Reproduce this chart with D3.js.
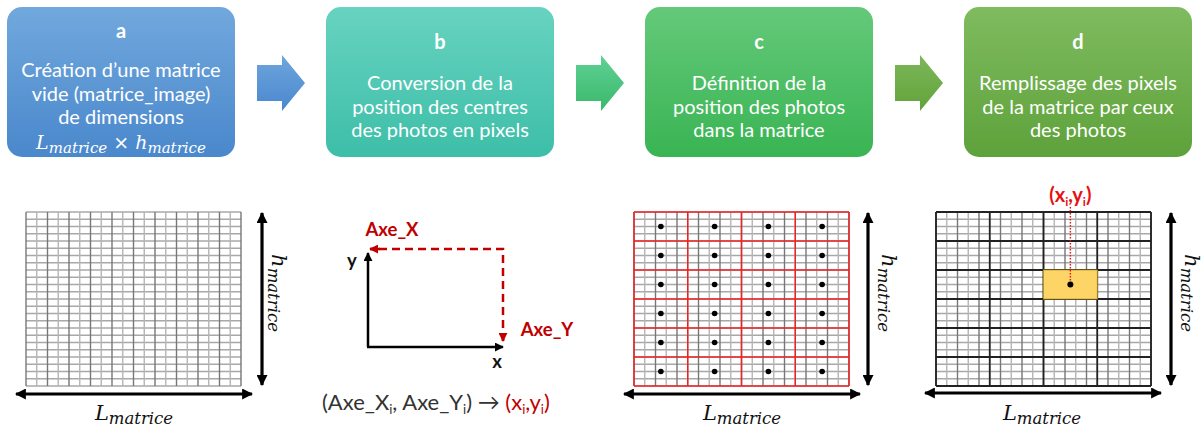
<!DOCTYPE html>
<html><head><meta charset="utf-8">
<script src="https://cdn.jsdelivr.net/npm/d3@7/dist/d3.min.js"></script>
<style>
html,body{margin:0;padding:0;background:#fff;}
svg{display:block;}
</style></head>
<body>
<svg id="chart" width="1203" height="428"></svg>
<script>
// ---------------- data ----------------
const stepLetters = ["a", "b", "c", "d"];
const stepLines = [
  ["Création d’une matrice", "vide (matrice_image)", "de dimensions"],
  ["Conversion de la", "position des centres", "des photos en pixels"],
  ["Définition de la", "position des photos", "dans la matrice"],
  ["Remplissage des pixels", "de la matrice par ceux", "des photos"]
];
const gridCols = 20;          // pixel columns of the matrix
const gridRows = 24;          // pixel rows of the matrix
const photoCols = [0, 1, 2, 3];           // photo block columns
const photoRows = [0, 1, 2, 3, 4, 5];     // photo block rows
const highlightPhoto = [2, 2];            // [col,row] filled in panel d
const axisLabels = ["Axe_X", "Axe_Y", "x", "y"];

// ---------------- styles ----------------
const boxTop = ["#71a8dd", "#67d3c0", "#64c97a", "#7fbb5f"];
const boxBot = ["#4a88cc", "#3dbea8", "#39b453", "#5ea23b"];
const arrowTop = ["#6ea6dc", "#5fd195", "#7db75a"];
const arrowBot = ["#4a87cf", "#3bb86b", "#61a23a"];
const darkRed = "#c00000";
const brightRed = "#e81010";

const svg = d3.select("#chart");
const defs = svg.append("defs");

function grad(id, c1, c2) {
  const g = defs.append("linearGradient").attr("id", id)
    .attr("x1", 0).attr("y1", 0).attr("x2", 0).attr("y2", 1);
  g.append("stop").attr("offset", "0%").attr("stop-color", c1);
  g.append("stop").attr("offset", "100%").attr("stop-color", c2);
}
stepLetters.forEach((l, i) => grad("gb" + i, boxTop[i], boxBot[i]));
arrowTop.forEach((c, i) => grad("ga" + i, c, arrowBot[i]));

function marker(id, color, size) {
  defs.append("marker").attr("id", id)
    .attr("viewBox", "0 0 10 10").attr("refX", 9).attr("refY", 5)
    .attr("markerUnits", "userSpaceOnUse")
    .attr("markerWidth", size).attr("markerHeight", size)
    .attr("orient", "auto-start-reverse")
    .append("path").attr("d", "M0,0 L10,5 L0,10 Z").attr("fill", color);
}
marker("mBlack", "#000", 11);
marker("mSmall", "#000", 9);
marker("mRed", darkRed, 9);

const uiFont = "Lato, 'Open Sans', sans-serif";
const mathFont = "'DejaVu Serif', 'Liberation Serif', serif";

// ---------------- top boxes ----------------
const xBox = d3.scaleBand().domain(stepLetters).range([7, 1192])
  .paddingInner(91 / 319).paddingOuter(0);
const boxY = 7, boxH = 150;

const boxes = svg.selectAll("g.box").data(stepLetters).join("g").attr("class", "box")
  .attr("transform", d => `translate(${xBox(d)},${boxY})`);
boxes.append("rect").attr("width", xBox.bandwidth()).attr("height", boxH)
  .attr("rx", 15).attr("ry", 15)
  .attr("fill", (d, i) => `url(#gb${i})`);
boxes.append("text").attr("x", xBox.bandwidth() / 2).attr("y", (d, i) => i === 0 ? 31 : 42)
  .attr("text-anchor", "middle").attr("fill", "#fff")
  .attr("font-family", uiFont).attr("font-weight", "bold").attr("font-size", 20)
  .text(d => d);

boxes.each(function (d, i) {
  const g = d3.select(this);
  const lines = stepLines[i];
  const startY = i === 0 ? 63 : 76;
  lines.forEach((t, k) => {
    g.append("text").attr("x", xBox.bandwidth() / 2).attr("y", startY + k * 23.7)
      .attr("text-anchor", "middle").attr("fill", "#fff").attr("dy", "0.35em")
      .attr("font-family", uiFont).attr("font-size", 20)
      .text(t);
  });
  if (i === 0) {
    const m = g.append("text").attr("x", xBox.bandwidth() / 2).attr("y", 142)
      .attr("text-anchor", "middle").attr("fill", "#fff")
      .attr("font-family", mathFont).attr("font-style", "italic");
    m.append("tspan").attr("font-size", 19).text("L");
    m.append("tspan").attr("font-size", 15).attr("dy", 4).text("matrice");
    m.append("tspan").attr("font-size", 19).attr("dy", -4).attr("font-style", "normal").text(" × ");
    m.append("tspan").attr("font-size", 19).text("h");
    m.append("tspan").attr("font-size", 15).attr("dy", 4).text("matrice");
  }
});

// block arrows between boxes
const arrowIdx = [0, 1, 2];
svg.selectAll("path.barrow").data(arrowIdx).join("path").attr("class", "barrow")
  .attr("d", i => {
    const x0 = xBox(stepLetters[i]) + xBox.bandwidth() + 22;
    const xh = x0 + 25, x1 = x0 + 48;
    return `M${x0},65 L${xh},65 L${xh},55 L${x1},83 L${xh},111 L${xh},101 L${x0},101 Z`;
  })
  .attr("fill", i => `url(#ga${i})`);

// ---------------- matrix grids ----------------
const gridY0 = 212, gridY1 = 386, gridW = 215;

function drawGrid(x0, redBlocks, blackBlocks) {
  const g = svg.append("g");
  const xs = d3.scaleLinear().domain([0, gridCols]).range([x0, x0 + gridW]);
  const ys = d3.scaleLinear().domain([0, gridRows]).range([gridY0, gridY1]);
  g.selectAll("line.r").data(d3.range(gridRows + 1)).join("line")
    .attr("x1", xs(0)).attr("x2", xs(gridCols))
    .attr("y1", d => ys(d)).attr("y2", d => ys(d))
    .attr("stroke", "#a8a8a8").attr("stroke-width", 1.6);
  g.selectAll("line.c").data(d3.range(gridCols + 1)).join("line")
    .attr("y1", ys(0)).attr("y2", ys(gridRows))
    .attr("x1", d => xs(d)).attr("x2", d => xs(d))
    .attr("stroke", d => (d % 2 === 0 ? "#777" : "#b5b5b5")).attr("stroke-width", 1.4);
  const bx = d3.scaleLinear().domain([0, photoCols.length]).range([x0, x0 + gridW]);
  const by = d3.scaleLinear().domain([0, photoRows.length]).range([gridY0, gridY1]);
  if (redBlocks || blackBlocks) {
    const col = redBlocks ? "#ee2222" : "#222";
    const w = redBlocks ? 1.5 : 1.8;
    g.selectAll("line.bc").data(d3.range(photoCols.length + 1)).join("line")
      .attr("x1", d => bx(d)).attr("x2", d => bx(d)).attr("y1", gridY0).attr("y2", gridY1)
      .attr("stroke", col).attr("stroke-width", w);
    g.selectAll("line.br").data(d3.range(photoRows.length + 1)).join("line")
      .attr("y1", d => by(d)).attr("y2", d => by(d)).attr("x1", x0).attr("x2", x0 + gridW)
      .attr("stroke", col).attr("stroke-width", w);
  }
  return { xs, ys, bx, by, g };
}

function dimArrows(x0, vx, hy, hx0, hx1, lx, hxLabel) {
  svg.append("line").attr("x1", vx).attr("x2", vx).attr("y1", 213).attr("y2", 385)
    .attr("stroke", "#000").attr("stroke-width", 3.2)
    .attr("marker-start", "url(#mBlack)").attr("marker-end", "url(#mBlack)");
  svg.append("line").attr("y1", hy).attr("y2", hy).attr("x1", hx0).attr("x2", hx1)
    .attr("stroke", "#000").attr("stroke-width", 3.2)
    .attr("marker-start", "url(#mBlack)").attr("marker-end", "url(#mBlack)");
  const L = svg.append("text").attr("x", lx).attr("y", 420).attr("text-anchor", "middle")
    .attr("font-family", mathFont).attr("font-style", "italic").attr("fill", "#111");
  L.append("tspan").attr("font-size", 21).text("L");
  L.append("tspan").attr("font-size", 16.5).attr("dy", 4).text("matrice");
  const H = svg.append("text").attr("transform", `translate(${hxLabel},293) rotate(90)`)
    .attr("text-anchor", "middle")
    .attr("font-family", mathFont).attr("font-style", "italic").attr("fill", "#111");
  H.append("tspan").attr("font-size", 21).text("h");
  H.append("tspan").attr("font-size", 16.5).attr("dy", 4).text("matrice");
}

// panel a
drawGrid(26, false, false);
dimArrows(26, 262, 394, 16, 252, 134, 272);

// panel c
const pc = drawGrid(634, true, false);
const dots = [];
photoRows.forEach(r => photoCols.forEach(c => dots.push([c, r])));
svg.selectAll("circle.dc").data(dots).join("circle").attr("class", "dc")
  .attr("cx", d => pc.bx(d[0] + 0.5)).attr("cy", d => pc.by(d[1] + 0.5))
  .attr("r", 2.8).attr("fill", "#000");
dimArrows(634, 868, 394, 624, 860, 742, 882);

// panel d
const pd = drawGrid(936, false, true);
pd.g.append("rect")
  .attr("x", pd.bx(highlightPhoto[0])).attr("y", pd.by(highlightPhoto[1]))
  .attr("width", pd.bx(1) - pd.bx(0)).attr("height", pd.by(1) - pd.by(0))
  .attr("fill", "#fdd566").attr("stroke", "#bf9a2a").attr("stroke-width", 0.8);
const hcx = pd.bx(highlightPhoto[0] + 0.5), hcy = pd.by(highlightPhoto[1] + 0.5);
svg.append("line").attr("x1", hcx).attr("x2", hcx).attr("y1", 207).attr("y2", hcy)
  .attr("stroke", brightRed).attr("stroke-width", 1.4).attr("stroke-dasharray", "1.5,1.5");
svg.append("circle").attr("cx", hcx).attr("cy", hcy).attr("r", 3).attr("fill", "#000");
const xy = svg.append("text").attr("x", hcx).attr("y", 202).attr("text-anchor", "middle")
  .attr("font-family", uiFont).attr("font-weight", "bold").attr("font-size", 20).attr("fill", brightRed);
xy.append("tspan").text("(x");
xy.append("tspan").attr("font-size", 12).attr("dy", 4).text("i");
xy.append("tspan").attr("dy", -4).text(",y");
xy.append("tspan").attr("font-size", 12).attr("dy", 4).text("i");
xy.append("tspan").attr("dy", -4).text(")");
dimArrows(936, 1171, 393, 925, 1161, 1042, 1185);

// ---------------- panel b ----------------
const ax = d3.scaleLinear().domain([0, 1]).range([368, 503]);
const ay = d3.scaleLinear().domain([0, 1]).range([347, 249]);
svg.append("line").attr("x1", ax(0)).attr("y1", ay(0)).attr("x2", ax(0)).attr("y2", ay(1) + 4)
  .attr("stroke", "#000").attr("stroke-width", 2.5).attr("marker-end", "url(#mSmall)");
svg.append("line").attr("x1", ax(0) - 1).attr("y1", ay(0)).attr("x2", ax(1)).attr("y2", ay(0))
  .attr("stroke", "#000").attr("stroke-width", 2.5).attr("marker-end", "url(#mSmall)");
svg.append("path")
  .attr("d", `M${ax(1)},${ay(0) - 6} L${ax(1)},${ay(1)} L${ax(0) + 2},${ay(1)}`)
  .attr("fill", "none").attr("stroke", darkRed).attr("stroke-width", 2.5)
  .attr("stroke-dasharray", "8,5");
svg.append("line").attr("x1", ax(1)).attr("x2", ax(1)).attr("y1", ay(0) - 14).attr("y2", ay(0) - 6)
  .attr("stroke", darkRed).attr("stroke-width", 2.5).attr("marker-end", "url(#mRed)");
svg.append("line").attr("x1", ax(0) + 12).attr("x2", ax(0) + 2).attr("y1", ay(1)).attr("y2", ay(1))
  .attr("stroke", darkRed).attr("stroke-width", 2.5).attr("marker-end", "url(#mRed)");

const bold = (x, y, t, c, anchor) => svg.append("text").attr("x", x).attr("y", y)
  .attr("text-anchor", anchor || "middle").attr("font-family", uiFont)
  .attr("font-weight", "bold").attr("font-size", 18.5).attr("fill", c).text(t);
bold(392, 236, axisLabels[0], darkRed);
bold(547, 336, axisLabels[1], darkRed);
bold(497, 368, axisLabels[2], "#111");
bold(352, 267, axisLabels[3], "#111");

const f = svg.append("text").attr("x", 322).attr("y", 410)
  .attr("font-family", uiFont).attr("font-size", 22).attr("fill", "#333");
f.append("tspan").text("(Axe_X");
f.append("tspan").attr("font-size", 13).attr("dy", 4).text("i");
f.append("tspan").attr("dy", -4).text(", Axe_Y");
f.append("tspan").attr("font-size", 13).attr("dy", 4).text("i");
f.append("tspan").attr("dy", -4).text(") → ");
f.append("tspan").attr("fill", darkRed).text("(x");
f.append("tspan").attr("fill", darkRed).attr("font-size", 13).attr("dy", 4).text("i");
f.append("tspan").attr("fill", darkRed).attr("dy", -4).text(",y");
f.append("tspan").attr("fill", darkRed).attr("font-size", 13).attr("dy", 4).text("i");
f.append("tspan").attr("fill", darkRed).attr("dy", -4).text(")");
</script>
</body></html>
